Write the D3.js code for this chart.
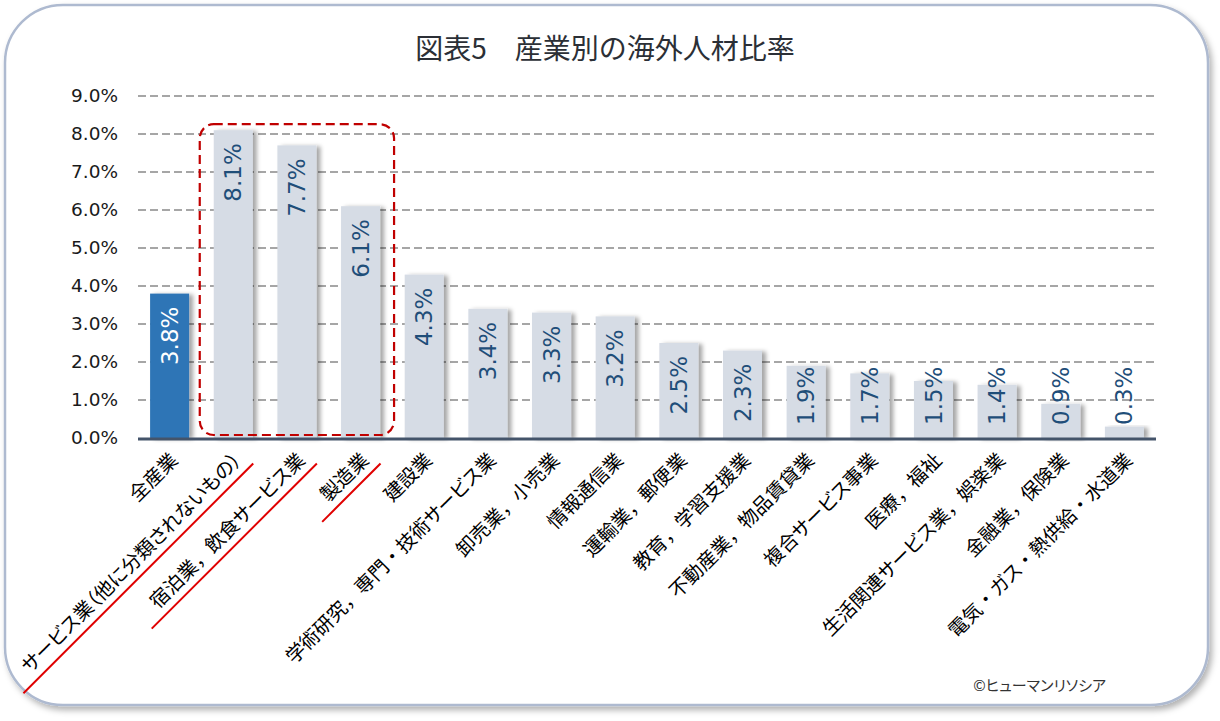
<!DOCTYPE html>
<html>
<head>
<meta charset="utf-8">
<script src="https://cdn.jsdelivr.net/npm/d3@7"></script>
<style>
  body { margin: 0; background: #fff; }
  svg { display: block; }
  .cjk { font-family: 'Noto Sans CJK JP', sans-serif; font-feature-settings: "palt"; }
  .cjk .punct { font-feature-settings: normal; }
</style>
</head>
<body>
<div id="chart"></div>
<script>
// data
var categories = [
    "全産業",
    "サービス業（他に分類されないもの）",
    "宿泊業，飲食サービス業",
    "製造業",
    "建設業",
    "学術研究，専門・技術サービス業",
    "卸売業，小売業",
    "情報通信業",
    "運輸業，郵便業",
    "教育，学習支援業",
    "不動産業，物品賃貸業",
    "複合サービス事業",
    "医療，福祉",
    "生活関連サービス業，娯楽業",
    "金融業，保険業",
    "電気・ガス・熱供給・水道業"
];
var ratios = [3.8, 8.1, 7.7, 6.1, 4.3, 3.4, 3.3, 3.2, 2.5, 2.3, 1.9, 1.7, 1.5, 1.4, 0.9, 0.3];
var yTicks = [0, 1, 2, 3, 4, 5, 6, 7, 8, 9];
var highlighted = [1, 2, 3]; // underlined + boxed categories

var W = 1220, H = 721;
var svg = d3.select("#chart").append("svg")
    .attr("width", W)
    .attr("height", H);

var defs = svg.append("defs");
var cardShadow = defs.append("filter").attr("id", "cardShadow")
    .attr("x", "-5%").attr("y", "-5%").attr("width", "110%").attr("height", "110%");
cardShadow.append("feDropShadow")
    .attr("dx", 3).attr("dy", 4).attr("stdDeviation", 3)
    .attr("flood-color", "#000").attr("flood-opacity", 0.3);
var barShadow = defs.append("filter").attr("id", "barShadow")
    .attr("x", "-30%").attr("y", "-10%").attr("width", "160%").attr("height", "120%");
barShadow.append("feDropShadow")
    .attr("dx", 4).attr("dy", 1).attr("stdDeviation", 2)
    .attr("flood-color", "#000").attr("flood-opacity", 0.35);

// card
svg.append("rect")
    .attr("x", 5).attr("y", 5)
    .attr("width", 1203).attr("height", 700)
    .attr("rx", 58).attr("ry", 58)
    .attr("fill", "#fff")
    .attr("stroke", "#aebad0")
    .attr("stroke-width", 2.5)
    .attr("filter", "url(#cardShadow)");

// title
svg.append("text")
    .attr("x", 605).attr("y", 47)
    .attr("text-anchor", "middle")
    .attr("dominant-baseline", "central")
    .attr("font-family", "'Noto Sans CJK JP', sans-serif")
    .attr("font-size", 28)
    .attr("fill", "#2b2f36")
    .text("図表5\u3000産業別の海外人材比率");

// scales
var x = d3.scaleBand()
    .domain(categories)
    .range([138, 1156])
    .paddingInner(0.387)
    .paddingOuter(0.19);
var y = d3.scaleLinear()
    .domain([0, 9])
    .range([438, 96]);

// gridlines
svg.append("g")
    .selectAll("line")
    .data(yTicks.filter(function (d) { return d > 0; }))
    .enter()
    .append("line")
    .attr("x1", 138).attr("x2", 1156)
    .attr("y1", function (d) { return y(d); })
    .attr("y2", function (d) { return y(d); })
    .attr("stroke", "#a6a6a6")
    .attr("stroke-width", 2)
    .attr("stroke-dasharray", "8,4");

// y axis labels
var yAxis = d3.axisLeft(y)
    .tickValues(yTicks)
    .tickSize(0)
    .tickPadding(20)
    .tickFormat(function (d) { return d.toFixed(1) + "%"; });
var gy = svg.append("g")
    .attr("transform", "translate(138,0)")
    .call(yAxis);
gy.select(".domain").remove();
gy.selectAll("text")
    .attr("font-family", "'DejaVu Sans', sans-serif")
    .attr("font-size", 18.5)
    .attr("fill", "#1a1a1a");

// bars
svg.append("g")
    .selectAll("rect")
    .data(ratios)
    .enter()
    .append("rect")
    .attr("x", function (d, i) { return x(categories[i]); })
    .attr("y", function (d) { return y(d); })
    .attr("width", x.bandwidth())
    .attr("height", function (d) { return y(0) - y(d); })
    .attr("fill", function (d, i) { return i === 0 ? "#2e75b6" : "#d6dce5"; })
    .attr("filter", "url(#barShadow)");

// red dashed box round highlighted bars
var first = categories[highlighted[0]], last = categories[highlighted[highlighted.length - 1]];
var boxTop = y(d3.max(highlighted, function (i) { return ratios[i]; })) - 6;
svg.append("rect")
    .attr("x", x(first) - 14)
    .attr("y", boxTop)
    .attr("width", x(last) + x.bandwidth() + 14 - (x(first) - 14))
    .attr("height", y(0) - 3 - boxTop)
    .attr("rx", 14).attr("ry", 14)
    .attr("fill", "none")
    .attr("stroke", "#c00000")
    .attr("stroke-width", 2.2)
    .attr("stroke-dasharray", "9,5");

// x axis line
svg.append("line")
    .attr("x1", 138).attr("x2", 1156)
    .attr("y1", y(0) + 1).attr("y2", y(0) + 1)
    .attr("stroke", "#44546a")
    .attr("stroke-width", 3);

// data labels
svg.append("g")
    .selectAll("text")
    .data(ratios)
    .enter()
    .append("text")
    .attr("font-family", "'DejaVu Sans', sans-serif")
    .attr("font-size", 23)
    .attr("fill", function (d, i) { return i === 0 ? "#ffffff" : "#1f4e79"; })
    .attr("text-anchor", "end")
    .attr("dy", "0.35em")
    .text(function (d) { return d.toFixed(1) + "%"; })
    .attr("transform", function (d, i) {
        var len = this.getComputedTextLength();
        var cx = x(categories[i]) + x.bandwidth() / 2;
        var top = Math.min(y(d) + 13, y(0) - 13 - len);
        return "translate(" + cx + "," + top + ") rotate(-90)";
    });

// category labels
var cat = svg.append("g")
    .selectAll("g")
    .data(categories)
    .enter()
    .append("g")
    .attr("transform", function (d) {
        return "translate(" + (x(d) + x.bandwidth() / 2 + 3) + ",455) rotate(-45)";
    });
var catText = cat.append("text")
    .attr("class", "cjk")
    .attr("font-size", 19.5)
    .attr("fill", "#000")
    .attr("text-anchor", "end")
    .attr("dominant-baseline", "central");
// full-width punctuation keeps its width, the rest is set proportional
catText.selectAll("tspan")
    .data(function (d) { return d.split(/([，・])/).filter(function (s) { return s.length; }); })
    .enter()
    .append("tspan")
    .attr("class", function (s) { return /^[，・]$/.test(s) ? "punct" : null; })
    .text(function (s) { return s; });
cat.filter(function (d, i) { return highlighted.indexOf(i) >= 0; })
    .append("line")
    .attr("x1", function () {
        var len = this.parentNode.querySelector("text").getComputedTextLength();
        return -(len + 18);
    })
    .attr("x2", 6)
    .attr("y1", 18).attr("y2", 18)
    .attr("stroke", "#e00000")
    .attr("stroke-width", 2);

// credit
svg.append("text")
    .attr("class", "cjk")
    .attr("x", 1106).attr("y", 684)
    .attr("text-anchor", "end")
    .attr("dominant-baseline", "central")
    .attr("font-size", 15)
    .attr("fill", "#333")
    .text("©ヒューマンリソシア");
</script>
</body>
</html>
